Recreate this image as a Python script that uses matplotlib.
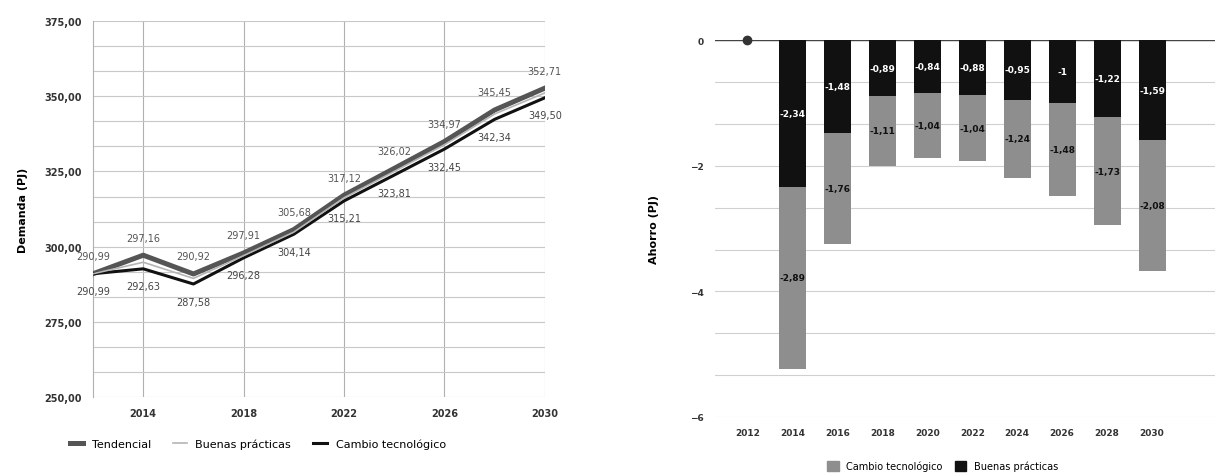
import matplotlib
matplotlib.use('Agg')
import matplotlib.pyplot as plt
from matplotlib.lines import Line2D
from matplotlib.patches import Patch

plt.rcParams['font.family'] = ['DejaVu Sans']

# datos
anios = ['2012', '2014', '2016', '2018', '2020', '2022', '2024', '2026', '2028', '2030']

tendencial = [290.99, 297.16, 290.92, 297.91, 305.68, 317.12, 326.02, 334.97, 345.45, 352.71]
buenas_practicas = [290.99, 294.82, 289.44, 297.02, 304.84, 316.24, 325.02, 333.87, 344.13, 351.12]
cambio_tecnologico = [290.99, 292.63, 287.58, 296.28, 304.14, 315.21, 323.81, 332.45, 342.34, 349.50]

ahorro_bp = [0, -2.34, -1.48, -0.89, -0.84, -0.88, -0.95, -1.0, -1.22, -1.59]
ahorro_ct = [0, -2.89, -1.76, -1.11, -1.04, -1.04, -1.24, -1.48, -1.73, -2.08]


def fmt(v, dec=2):
    return f'{v:.{dec}f}'.replace('.', ',')


fig = plt.figure(figsize=(12.21, 4.77), dpi=100)

# ---------- demanda ----------
ax1 = fig.add_axes([0.0762, 0.1656, 0.370, 0.788])
x = list(range(len(anios)))
ax1.plot(x, tendencial, color='#555555', linewidth=3.6, zorder=3)
ax1.plot(x, buenas_practicas, color='#b5b5b5', linewidth=1.2, zorder=4)
ax1.plot(x, cambio_tecnologico, color='#111111', linewidth=2.2, zorder=3)

for i in x:
    ax1.annotate(fmt(tendencial[i]), (i, tendencial[i]), xytext=(0, 9),
                 textcoords='offset points', ha='center', va='bottom',
                 fontsize=7, color='#555555')
    ax1.annotate(fmt(cambio_tecnologico[i]), (i, cambio_tecnologico[i]), xytext=(0, -9),
                 textcoords='offset points', ha='center', va='top',
                 fontsize=7, color='#444444')

ax1.set_xlim(0, len(anios) - 1)
ax1.set_ylim(250, 375)
ax1.set_yticks([250, 275, 300, 325, 350, 375])
ax1.set_yticklabels([fmt(v) for v in [250, 275, 300, 325, 350, 375]])
ax1.set_yticks([250 + k * 25 / 3 for k in range(16)], minor=True)
ax1.set_xticks(x[1::2])
ax1.set_xticklabels(anios[1::2])
ax1.grid(True, which='minor', axis='y', color='#c8c8c8', linewidth=0.8)
ax1.grid(True, which='major', axis='y', color='#c8c8c8', linewidth=0.8)
ax1.grid(True, which='major', axis='x', color='#b0b0b0', linewidth=0.8)
ax1.tick_params(axis='both', which='both', length=0, labelsize=7, pad=8)
for lab in ax1.get_xticklabels() + ax1.get_yticklabels():
    lab.set_fontweight('bold')
    lab.set_color('#333333')
for s in ['top', 'right', 'bottom']:
    ax1.spines[s].set_visible(False)
ax1.spines['left'].set_color('#b0b0b0')
ax1.set_ylabel('Demanda (PJ)', fontsize=8, fontweight='bold', labelpad=12)

handles1 = [Line2D([], [], color='#555555', linewidth=3.6),
            Line2D([], [], color='#b5b5b5', linewidth=1.2),
            Line2D([], [], color='#111111', linewidth=2.2)]
fig.legend(handles1, ['Tendencial', 'Buenas prácticas', 'Cambio tecnológico'],
           loc='center', bbox_to_anchor=(0.211, 0.067), ncol=3, frameon=False,
           fontsize=8, handlelength=1.2, columnspacing=2.0)

# ---------- ahorro ----------
ax2 = fig.add_axes([0.5856, 0.1237, 0.4095, 0.79])
xb = list(range(len(anios)))
ax2.bar(xb[1:], ahorro_bp[1:], width=0.6, color='#111111', zorder=3)
ax2.bar(xb[1:], ahorro_ct[1:], width=0.6, bottom=ahorro_bp[1:], color='#8e8e8e', zorder=3)
ax2.plot([0], [0], marker='o', color='#333333', markersize=6, clip_on=False, zorder=5)

for i in xb[1:]:
    ax2.text(i, ahorro_bp[i] / 2, f'{ahorro_bp[i]:g}'.replace('.', ','),
             ha='center', va='center', fontsize=6.5, color='white', fontweight='bold', zorder=4)
    ax2.text(i, ahorro_bp[i] + ahorro_ct[i] / 2, f'{ahorro_ct[i]:g}'.replace('.', ','),
             ha='center', va='center', fontsize=6.5, color='#111111', fontweight='bold', zorder=4)

ax2.axhline(0, color='#444444', linewidth=1.0, zorder=2)
ax2.set_xlim(-0.72, 10.4)
ax2.set_ylim(-6, 0)
ax2.set_yticks([0, -2, -4, -6])
ax2.set_yticks([-k * 2 / 3 for k in range(10)], minor=True)
ax2.set_xticks(xb)
ax2.set_xticklabels(anios)
ax2.grid(True, which='both', axis='y', color='#d0d0d0', linewidth=0.8, zorder=0)
ax2.tick_params(axis='both', which='both', length=0, labelsize=6.5, pad=8)
for lab in ax2.get_xticklabels() + ax2.get_yticklabels():
    lab.set_fontweight('bold')
    lab.set_color('#333333')
for s in ['top', 'right', 'bottom', 'left']:
    ax2.spines[s].set_visible(False)
ax2.set_ylabel('Ahorro (PJ)', fontsize=8, fontweight='bold', labelpad=22)

handles2 = [Patch(color='#8e8e8e'), Patch(color='#111111')]
fig.legend(handles2, ['Cambio tecnológico', 'Buenas prácticas'],
           loc='center', bbox_to_anchor=(0.772, 0.021), ncol=2, frameon=False,
           fontsize=7, handlelength=1.2, handleheight=1.2, columnspacing=1.2)

fig.savefig('out.png', dpi=100)
plt.close(fig)
